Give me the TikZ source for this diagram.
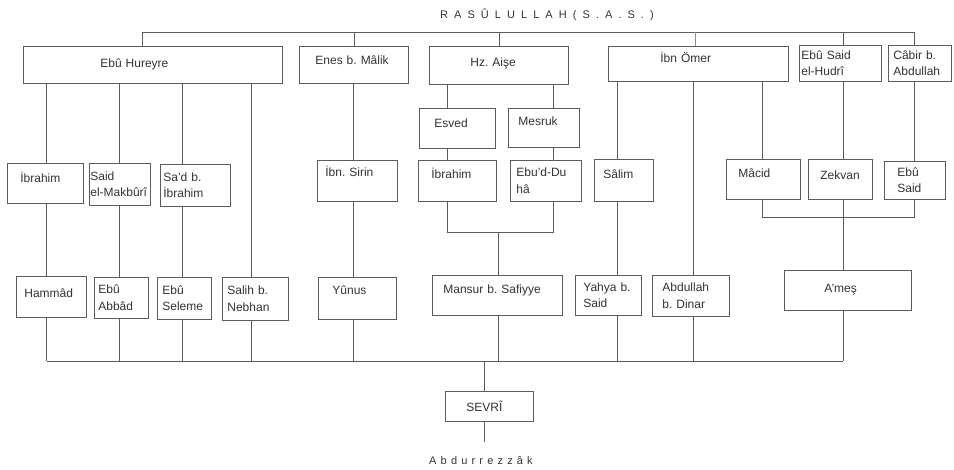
\documentclass[tikz,border=0pt]{standalone}
\usepackage{fontspec}
\setsansfont{Liberation Sans}
\newfontfamily\spacedtitle[LetterSpace=55]{Liberation Sans}
\newfontfamily\spacedname[LetterSpace=38]{Liberation Sans}
\usetikzlibrary{positioning,calc}
\definecolor{linegray}{rgb}{0.36,0.36,0.36}
\definecolor{textgray}{rgb}{0.2,0.2,0.2}

\begin{document}
\begin{tikzpicture}[x=1pt,y=-1pt]
\sffamily\frenchspacing
\fontsize{12}{16.5}\selectfont
\tikzstyle{ln}=[draw=linegray, line width=0.8pt];
\tikzstyle{plain}=[text=textgray, inner sep=0pt, anchor=west];
\tikzset{box/.style n args={3}{ln, fill=white, text=textgray, anchor=north west, align=left, inner ysep=0pt, inner xsep=#3, minimum width=#1, minimum height=#2, text width=#1-2*#3}}
\tikzset{shiftup/.style={text height=10pt, text depth=#1}}

\useasboundingbox (0,0) rectangle (954,470);

\node[plain] (rasul) at (440,15) {\fontsize{11}{13}\spacedtitle RASÛLULLAH(S.A.S.)};

% sahabe
\node[box={259}{37}{77}, shiftup=4.4pt] (hureyre) at (23,46) {Ebû Hureyre};
\node[box={109}{37}{16}, shiftup=10.4pt] (enes) at (299,46) {Enes b. Mâlik};
\node[box={139}{38}{41}, shiftup=7.4pt] (aise) at (429,46) {Hz. Aişe};
\node[box={180}{35}{52}, shiftup=12.4pt] (omer) at (608,46) {İbn Ömer};
\node[box={82}{36}{2}] (hudri) at (799,45) {Ebû Said\\el-Hudrî};
\node[box={63}{36}{5}] (cabir) at (888,45) {Câbir b.\\Abdullah};

% second row
\node[box={76}{40}{15}, shiftup=11.4pt] (esved) at (419,108) {Esved};
\node[box={71}{39}{10}, shiftup=14.4pt] (mesruk) at (508,108) {Mesruk};

\node[box={76}{40}{13}, shiftup=11.4pt] (ibrahimA) at (7,163) {İbrahim};
\node[box={61}{42}{1}] (makburi) at (89,163) {Said\\el-Makbûrî};
\node[box={70}{42}{3}] (sad) at (160,164) {Sa'd b.\\İbrahim};
\node[box={80}{41}{8}, shiftup=18.4pt] (sirin) at (317,160) {İbn. Sirin};
\node[box={78}{41}{13}, shiftup=14.4pt] (ibrahimB) at (418,160) {İbrahim};
\node[box={71}{41}{6}] (duha) at (510,160) {Ebu'd-Du\\hâ};
\node[box={59}{42}{9}, shiftup=13.4pt] (salim) at (594,159) {Sâlim};
\node[box={74}{40}{12}, shiftup=13.4pt] (macid) at (726,159) {Mâcid};
\node[box={64}{40}{12}, shiftup=9.4pt] (zekvan) at (808,159) {Zekvan};
\node[box={61}{38}{13}] (ebusaid) at (884,161) {Ebû\\Said};

% third row
\node[box={70}{41}{8}, shiftup=8.4pt] (hammad) at (16,276) {Hammâd};
\node[box={54}{41}{4}] (abbad) at (94,277) {Ebû\\Abbâd};
\node[box={54}{42}{5}] (seleme) at (157,277) {Ebû\\Seleme};
\node[box={66}{43}{5}] (nebhan) at (222,277) {Salih b.\\Nebhan};
\node[box={78}{42}{14}, shiftup=17.4pt] (yunus) at (318,277) {Yûnus};
\node[box={130}{40}{11}, shiftup=13.4pt] (mansur) at (432,275) {Mansur b. Safiyye};
\node[box={66}{40}{8}] (yahya) at (575,275) {Yahya b.\\Said};
\node[box={77}{41}{10}] (dinar) at (652,275) {Abdullah\\b. Dinar};
\node[box={127}{40}{40}, shiftup=5.4pt] (ames) at (784,270) {A'meş};

\node[box={88}{30}{21}] (sevri) at (445,391) {SEVRÎ};
\node[plain] (abdur) at (429,461) {\fontsize{11}{13}\spacedname Abdurrezzâk};

\coordinate (rail) at (0,32);
\coordinate (aisej) at (0,232);
\coordinate (omerj) at (0,217);
\coordinate (low) at (0,361);
\coordinate (tail) at (484,442);

% top rail
\draw[ln] (142,0 |- hureyre.north) |- (914,0 |- rail) -- (914,0 |- cabir.north);
\draw[ln] (enes.north) -- (enes.north |- rail);
\draw[ln] (aise.north) -- (aise.north |- rail);
\draw[ln, draw=linegray!70] (695,0 |- omer.north) -- (695,0 |- rail);
\draw[ln] (843,0 |- hudri.north) -- (843,0 |- rail);

% straight chains
\foreach \pn/\x/\mn/\bn in {hureyre/46.5/ibrahimA/hammad, hureyre/119/makburi/abbad, hureyre/182/sad/seleme, enes/353/sirin/yunus, omer/617/salim/yahya}
  \draw[ln] (\x,0 |- \pn.south) -- (\x,0 |- \mn.north)
            (\x,0 |- \mn.south) -- (\x,0 |- \bn.north)
            (\x,0 |- \bn.south) -- (\x,0 |- low);
\foreach \pn/\x/\bn in {hureyre/251/nebhan, omer/693/dinar}
  \draw[ln] (\x,0 |- \pn.south) -- (\x,0 |- \bn.north)
            (\x,0 |- \bn.south) -- (\x,0 |- low);

% Hz. Aise
\draw[ln] (447,0 |- aise.south) -- (447,0 |- esved.north)
          (447,0 |- esved.south) -- (447,0 |- ibrahimB.north)
          (447,0 |- ibrahimB.south) |- (553,0 |- aisej) -- (553,0 |- duha.south);
\draw[ln] (553,0 |- aise.south) -- (553,0 |- mesruk.north)
          (553,0 |- mesruk.south) -- (553,0 |- duha.north);
\draw[ln] (498,0 |- aisej) -- (498,0 |- mansur.north)
          (498,0 |- mansur.south) -- (498,0 |- low);

% Ibn Omer, Ebu Said, Cabir
\draw[ln] (762,0 |- omer.south) -- (762,0 |- macid.north)
          (762,0 |- macid.south) |- (914,0 |- omerj) -- (914,0 |- ebusaid.south);
\draw[ln] (914,0 |- cabir.south) -- (914,0 |- ebusaid.north);
\draw[ln] (843,0 |- hudri.south) -- (843,0 |- zekvan.north)
          (843,0 |- zekvan.south) -- (843,0 |- ames.north)
          (843,0 |- ames.south) -- (843,0 |- low);

% Sevri
\draw[ln] (46.5,0 |- low) -- (843,0 |- low);
\draw[ln] (484,0 |- low) -- (484,0 |- sevri.north)
          (484,0 |- sevri.south) -- (tail);

\end{tikzpicture}
\end{document}
